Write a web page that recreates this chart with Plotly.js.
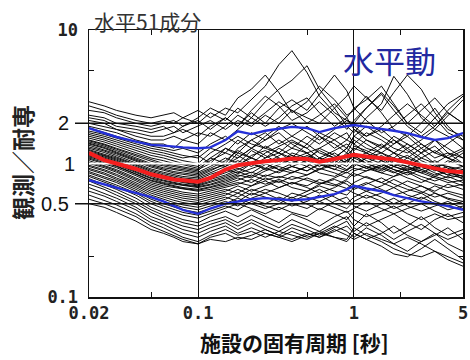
<!DOCTYPE html>
<html><head><meta charset="utf-8">
<script src="https://cdn.plot.ly/plotly-3.0.1.min.js"></script>
<style>html,body{margin:0;padding:0;background:#fff}#chart{width:470px;height:360px}</style>
</head><body><div id="chart"></div>
<script>
// Natural periods of the facility [s]
const periods = [0.02,0.025,0.03,0.04,0.05,0.06,0.07,0.08,0.1,0.12,0.15,0.18,0.22,0.27,0.33,0.4,0.5,0.6,0.75,0.9,1,1.2,1.5,1.8,2.2,2.7,3.3,4,5];

// 51 horizontal components: observed / 耐専 ratio
const h01=[2.9,2.7,2.5,2.3,2.2,2.3,2.4,2.2,2.5,2.2,2.6,2.4,3.0,3.8,5.5,7.0,4.8,3.2,2.4,2.1,2.0,2.6,3.3,2.5,1.9,1.6,1.9,2.4,2.0];
const h02=[2.7,2.5,2.3,2.1,2.0,2.1,2.0,2.2,2.0,2.4,2.1,2.6,2.2,2.9,3.6,4.2,5.4,3.6,2.6,1.9,1.7,2.2,2.8,4.5,3.3,2.2,1.8,2.3,3.0];
const h03=[2.5,2.4,2.2,2.0,1.9,2.0,2.1,1.9,2.2,2.6,2.3,3.1,3.6,4.6,3.4,2.4,2.9,3.8,3.0,2.3,2.5,3.2,2.4,1.8,1.6,2.0,2.6,1.9,1.5];
const h04=[2.3,2.2,2.0,1.9,1.8,1.9,1.7,1.9,2.1,1.8,2.2,1.9,2.4,2.0,2.6,3.0,2.5,3.3,4.6,3.5,2.6,3.0,3.8,2.8,2.0,1.7,2.2,2.8,3.3];
const h05=[2.2,2.1,1.9,1.8,1.7,1.8,1.9,1.7,1.9,2.1,1.8,2.1,1.9,2.3,2.0,2.5,2.2,2.0,2.6,3.2,3.8,3.1,2.5,3.4,4.6,3.6,2.4,1.8,1.6];
const h06=[2.1,2.0,1.8,1.7,1.6,1.6,1.7,1.8,1.6,1.9,2.2,1.9,2.5,3.2,2.7,2.1,2.4,2.9,2.3,1.8,2.1,2.6,3.4,2.7,2.0,2.5,3.1,2.4,2.0];
const h07=[2.0,1.9,1.8,1.6,1.5,1.5,1.6,1.5,1.7,1.6,1.9,2.3,2.0,2.4,2.9,2.5,2.0,2.3,2.8,2.2,1.8,1.6,1.9,2.3,2.8,2.3,1.9,2.5,3.2];
const h08=[1.9,1.8,1.7,1.5,1.4,1.4,1.3,1.5,1.4,1.7,1.5,1.8,2.2,1.9,2.2,2.7,3.1,2.4,1.9,2.2,2.6,2.1,1.7,1.9,2.3,2.8,2.2,1.7,1.5];
const h09=[1.85,1.7,1.6,1.45,1.35,1.3,1.25,1.3,1.2,1.4,1.6,1.4,1.7,1.5,1.8,2.0,1.7,1.5,1.8,2.1,1.9,1.6,1.8,1.5,1.3,1.5,1.8,1.6,1.3];
const h10=[1.75,1.65,1.55,1.4,1.3,1.25,1.2,1.15,1.1,1.3,1.2,1.5,1.3,1.6,1.9,1.6,1.4,1.7,1.5,1.3,1.6,1.9,1.6,1.4,1.7,1.4,1.2,1.4,1.7];
const h11=[1.7,1.6,1.5,1.35,1.25,1.2,1.15,1.1,1.15,1.0,1.3,1.2,1.5,1.7,1.4,1.6,1.9,1.6,1.3,1.5,1.8,1.5,1.3,1.6,1.4,1.2,1.5,1.3,1.1];
const h12=[1.65,1.55,1.45,1.3,1.2,1.15,1.1,1.05,1.0,1.2,1.4,1.6,1.4,1.3,1.5,1.3,1.6,1.4,1.7,1.5,1.4,1.7,1.5,1.3,1.2,1.4,1.2,1.1,1.25];
const h13=[1.6,1.5,1.4,1.25,1.15,1.1,1.05,1.0,0.95,1.1,1.0,1.3,1.5,1.3,1.2,1.45,1.3,1.6,1.4,1.2,1.5,1.3,1.2,1.4,1.6,1.3,1.1,1.2,1.0];
const h14=[1.55,1.45,1.35,1.2,1.1,1.05,1.0,0.98,0.92,1.05,1.2,1.1,1.3,1.5,1.7,1.4,1.2,1.3,1.5,1.7,1.4,1.2,1.4,1.2,1.1,1.3,1.5,1.2,1.1];
const h15=[1.5,1.4,1.3,1.17,1.07,1.0,0.97,0.94,0.9,1.0,0.95,1.2,1.1,1.35,1.2,1.1,1.4,1.2,1.1,1.3,1.6,1.4,1.2,1.1,1.3,1.1,1.0,1.15,1.3];
const h16=[1.48,1.38,1.28,1.14,1.04,0.98,0.95,0.92,0.88,1.1,1.3,1.15,1.0,1.2,1.35,1.5,1.3,1.1,1.25,1.4,1.25,1.5,1.35,1.2,1.0,1.2,1.35,1.1,0.95];
const h17=[1.45,1.35,1.25,1.1,1.0,0.96,0.92,0.9,0.86,0.95,1.1,1.0,1.25,1.1,1.3,1.15,1.05,1.3,1.15,1.0,1.2,1.1,1.3,1.5,1.25,1.05,0.95,1.0,1.2];
const h18=[1.42,1.32,1.22,1.08,0.98,0.93,0.9,0.87,0.84,0.92,1.05,1.25,1.1,1.0,1.15,1.3,1.2,1.0,0.95,1.15,1.3,1.2,1.05,1.2,1.4,1.2,1.0,0.95,0.9];
const h19=[1.4,1.3,1.2,1.06,0.96,0.91,0.87,0.85,0.82,0.9,0.98,1.1,1.3,1.15,1.0,1.2,1.1,1.25,1.1,1.3,1.15,1.0,1.15,1.0,0.95,1.1,1.25,1.1,1.0];
const h20=[1.37,1.27,1.18,1.04,0.94,0.89,0.85,0.83,0.8,0.88,1.0,0.95,1.15,1.25,1.1,1.0,1.15,1.05,1.2,1.05,1.35,1.25,1.1,0.95,1.05,0.95,0.9,1.05,0.95];
const h21=[1.33,1.24,1.15,1.01,0.91,0.86,0.83,0.8,0.78,0.85,0.95,1.05,0.95,1.1,1.2,1.05,0.95,1.1,1.0,1.2,1.1,1.0,0.9,1.05,1.15,1.0,0.88,0.95,0.85];
const h22=[1.3,1.21,1.12,0.99,0.89,0.84,0.81,0.78,0.76,0.83,0.9,0.85,1.0,0.92,1.05,1.15,1.0,0.9,1.05,0.95,1.1,1.2,1.05,0.95,0.88,1.0,0.9,0.82,0.9];
const h23=[1.27,1.18,1.1,0.97,0.87,0.82,0.79,0.76,0.74,0.8,0.88,0.98,1.1,1.0,0.9,1.0,1.12,1.0,0.9,1.05,0.98,1.1,1.2,1.05,0.95,0.85,0.95,0.88,0.8];
const h24=[1.25,1.16,1.08,0.95,0.85,0.8,0.77,0.75,0.72,0.78,0.85,0.92,0.85,0.98,1.1,0.95,0.88,1.0,1.12,1.0,1.2,1.05,0.95,1.1,1.0,0.9,0.82,0.9,0.95];
const h25=[1.22,1.14,1.06,0.93,0.83,0.78,0.76,0.73,0.7,0.76,0.82,0.9,1.0,0.9,0.98,1.08,1.2,1.05,0.95,0.88,1.0,0.92,1.05,0.95,1.1,1.0,0.9,0.82,0.78];
const h26=[1.2,1.12,1.04,0.91,0.82,0.77,0.74,0.72,0.69,0.74,0.8,0.87,0.8,0.92,0.85,0.95,1.05,0.95,1.08,1.15,1.05,0.95,0.88,1.0,0.9,0.95,1.05,0.92,0.85];
const h27=[1.18,1.1,1.02,0.89,0.8,0.75,0.72,0.7,0.68,0.72,0.78,0.84,0.92,1.0,0.9,0.85,0.95,1.1,1.0,0.9,0.95,1.1,1.0,0.9,0.85,0.95,0.85,0.78,0.82];
const h28=[1.16,1.08,1.0,0.87,0.78,0.74,0.71,0.69,0.67,0.7,0.76,0.82,0.78,0.88,0.95,0.88,0.82,0.9,0.98,1.05,1.15,1.0,0.92,0.85,0.95,0.88,0.8,0.88,0.76];
const h29=[1.14,1.06,0.98,0.86,0.77,0.72,0.7,0.68,0.66,0.69,0.74,0.8,0.86,0.8,0.88,0.95,0.88,0.98,0.9,0.85,0.92,0.88,0.98,0.9,0.82,0.9,0.98,0.85,0.8];
const h30=[1.12,1.04,0.96,0.84,0.75,0.71,0.68,0.66,0.64,0.67,0.72,0.78,0.72,0.82,0.78,0.85,0.95,0.85,0.8,0.9,1.0,0.92,0.85,0.95,0.88,0.8,0.74,0.8,0.72];
const h31=[1.1,1.02,0.95,0.83,0.74,0.7,0.67,0.65,0.63,0.66,0.7,0.75,0.82,0.75,0.8,0.76,0.82,0.92,0.85,0.78,0.88,0.95,0.85,0.8,0.92,0.85,0.78,0.72,0.75];
const h32=[1.08,1.0,0.93,0.81,0.72,0.68,0.66,0.64,0.62,0.64,0.68,0.72,0.68,0.78,0.72,0.8,0.75,0.7,0.78,0.86,0.8,0.88,0.95,0.86,0.78,0.72,0.8,0.75,0.68];
const h33=[1.05,0.97,0.9,0.78,0.7,0.66,0.63,0.61,0.59,0.62,0.66,0.7,0.76,0.7,0.76,0.7,0.78,0.72,0.68,0.76,0.84,0.78,0.72,0.8,0.86,0.76,0.7,0.66,0.7];
const h34=[1.02,0.95,0.88,0.76,0.68,0.64,0.61,0.59,0.57,0.6,0.64,0.6,0.68,0.74,0.66,0.72,0.68,0.76,0.7,0.65,0.72,0.8,0.72,0.66,0.74,0.68,0.62,0.7,0.64];
const h35=[1.0,0.93,0.86,0.74,0.66,0.62,0.59,0.57,0.55,0.58,0.62,0.68,0.62,0.68,0.74,0.66,0.62,0.7,0.76,0.7,0.64,0.7,0.78,0.7,0.64,0.6,0.68,0.62,0.58];
const h36=[0.97,0.9,0.83,0.72,0.64,0.6,0.57,0.55,0.53,0.56,0.6,0.56,0.64,0.6,0.66,0.72,0.66,0.6,0.66,0.74,0.68,0.62,0.68,0.76,0.68,0.62,0.56,0.6,0.55];
const h37=[0.95,0.88,0.81,0.7,0.62,0.58,0.55,0.53,0.51,0.54,0.58,0.64,0.58,0.64,0.6,0.55,0.62,0.68,0.62,0.58,0.66,0.72,0.64,0.58,0.62,0.68,0.6,0.55,0.52];
const h38=[0.92,0.85,0.78,0.68,0.6,0.56,0.53,0.51,0.49,0.52,0.56,0.52,0.6,0.56,0.52,0.6,0.56,0.52,0.58,0.64,0.6,0.55,0.6,0.66,0.58,0.54,0.6,0.54,0.5];
const h39=[0.9,0.83,0.76,0.66,0.58,0.54,0.51,0.49,0.47,0.5,0.54,0.6,0.54,0.5,0.56,0.52,0.58,0.64,0.56,0.5,0.56,0.62,0.56,0.5,0.55,0.6,0.52,0.48,0.52];
const h40=[0.87,0.8,0.74,0.64,0.56,0.52,0.49,0.47,0.45,0.48,0.52,0.48,0.55,0.6,0.54,0.48,0.52,0.58,0.5,0.46,0.52,0.58,0.52,0.46,0.5,0.56,0.5,0.45,0.48];
const h41=[0.85,0.78,0.72,0.62,0.54,0.5,0.47,0.45,0.43,0.46,0.5,0.55,0.5,0.46,0.5,0.56,0.5,0.45,0.52,0.56,0.48,0.44,0.5,0.55,0.48,0.44,0.48,0.52,0.46];
const h42=[0.82,0.75,0.69,0.6,0.52,0.48,0.45,0.43,0.41,0.44,0.48,0.45,0.52,0.48,0.45,0.5,0.46,0.52,0.47,0.43,0.46,0.52,0.46,0.42,0.46,0.5,0.44,0.4,0.43];
const h43=[0.8,0.73,0.67,0.58,0.5,0.46,0.43,0.41,0.39,0.42,0.46,0.5,0.46,0.42,0.47,0.43,0.4,0.46,0.42,0.38,0.44,0.4,0.44,0.48,0.42,0.38,0.42,0.38,0.4];
const h44=[0.77,0.7,0.64,0.55,0.47,0.43,0.4,0.38,0.36,0.4,0.44,0.4,0.45,0.4,0.36,0.42,0.38,0.34,0.4,0.44,0.38,0.34,0.38,0.42,0.36,0.32,0.38,0.42,0.36];
const h45=[0.74,0.67,0.61,0.52,0.45,0.41,0.38,0.36,0.34,0.37,0.4,0.36,0.41,0.37,0.33,0.38,0.34,0.31,0.36,0.4,0.34,0.42,0.36,0.3,0.34,0.4,0.33,0.29,0.32];
const h46=[0.7,0.64,0.58,0.5,0.43,0.39,0.36,0.34,0.32,0.35,0.38,0.34,0.38,0.34,0.31,0.35,0.32,0.29,0.33,0.37,0.31,0.36,0.31,0.27,0.31,0.35,0.3,0.27,0.3];
const h47=[0.66,0.6,0.55,0.47,0.4,0.37,0.34,0.32,0.3,0.33,0.36,0.32,0.36,0.32,0.29,0.33,0.3,0.28,0.31,0.34,0.3,0.27,0.3,0.34,0.29,0.26,0.29,0.33,0.27];
const h48=[0.62,0.57,0.52,0.45,0.38,0.35,0.32,0.3,0.28,0.31,0.34,0.3,0.33,0.3,0.28,0.31,0.28,0.3,0.34,0.31,0.28,0.33,0.29,0.25,0.22,0.26,0.3,0.25,0.22];
const h49=[0.58,0.53,0.49,0.42,0.36,0.33,0.3,0.28,0.26,0.29,0.32,0.29,0.31,0.28,0.31,0.29,0.27,0.3,0.28,0.26,0.3,0.27,0.24,0.21,0.2,0.23,0.27,0.23,0.19];
const h50=[0.54,0.5,0.46,0.4,0.34,0.31,0.29,0.27,0.25,0.28,0.3,0.27,0.29,0.32,0.29,0.27,0.3,0.28,0.32,0.29,0.27,0.3,0.27,0.25,0.28,0.25,0.22,0.2,0.18];
const h51=[0.5,0.47,0.43,0.37,0.32,0.3,0.28,0.26,0.25,0.27,0.26,0.28,0.27,0.3,0.28,0.26,0.29,0.31,0.28,0.27,0.33,0.29,0.26,0.23,0.21,0.2,0.22,0.19,0.17];

// mean (red) and mean ± sigma (blue)
const meanRatio = [1.20,1.06,1.0,0.91,0.83,0.79,0.76,0.75,0.73,0.78,0.9,0.97,1.01,1.04,1.06,1.09,1.08,1.03,1.08,1.13,1.16,1.13,1.1,1.07,1.02,0.96,0.92,0.88,0.86];
const upperSigma = [1.84,1.68,1.58,1.46,1.38,1.36,1.33,1.32,1.3,1.32,1.5,1.74,1.66,1.76,1.82,1.88,1.84,1.72,1.84,1.9,1.94,1.88,1.82,1.76,1.69,1.58,1.5,1.55,1.69];
const lowerSigma = [0.75,0.7,0.66,0.6,0.56,0.52,0.48,0.45,0.42,0.46,0.5,0.52,0.54,0.55,0.54,0.53,0.54,0.56,0.59,0.64,0.68,0.65,0.62,0.58,0.55,0.52,0.5,0.48,0.45];

// axes / labels
const xTickVals = [0.02,0.1,1,5];
const xTickText = ['0.02','0.1','1','5'];
const xMinorTicks = [0.05,0.5,2];
const yTickVals = [0.1,10];
const yTickText = ['0.1','10'];
const yMinorTicks = [0.2,5];
const refLevels = [2,0.5];
const refLabels = ['2','0.5'];
const unityLevel = 1;

const components = [h01,h02,h03,h04,h05,h06,h07,h08,h09,h10,h11,h12,h13,h14,h15,h16,h17,h18,h19,h20,h21,h22,h23,h24,h25,h26,h27,h28,h29,h30,h31,h32,h33,h34,h35,h36,h37,h38,h39,h40,h41,h42,h43,h44,h45,h46,h47,h48,h49,h50,h51];

const traces = components.map(c => ({x: periods, y: c, type:'scatter', mode:'lines', line:{color:'#000', width:0.95}, hoverinfo:'skip'}));
traces.push({x:[periods[0], periods[periods.length-1]], y:[unityLevel, unityLevel], type:'scatter', mode:'lines', line:{color:'#fff', width:2}, hoverinfo:'skip'});
traces.push({x: periods, y: upperSigma, type:'scatter', mode:'lines', line:{color:'#2530d8', width:2.4}});
traces.push({x: periods, y: lowerSigma, type:'scatter', mode:'lines', line:{color:'#2530d8', width:2.4}});
traces.push({x: periods, y: meanRatio, type:'scatter', mode:'lines', line:{color:'#f41e1e', width:4}});

const yr = [-1, 1];
const toPaperY = v => (Math.log10(v) - yr[0]) / (yr[1] - yr[0]);
const L = 89, R = 7, T = 30, B = 63, W = 470, H = 360;
const pw = W - L - R, ph = H - T - B;
const px = x => (x - L) / pw;
const py = y => (H - B - y) / ph;

const shapes = refLevels.map(v => ({type:'line', xref:'paper', yref:'paper', x0:px(75), x1:1, y0:toPaperY(v), y1:toPaperY(v), line:{color:'#111', width:1.5}}));
const tickFont = {family:'DejaVu Sans Mono, monospace', size:17, weight:'bold', color:'#222'};
const annotations = refLevels.map((v,i) => ({xref:'paper', yref:'paper', x:px(71), y:toPaperY(v), xanchor:'right', yanchor:'middle', text:refLabels[i], showarrow:false, font:{family:'Liberation Sans, Arial', size:20, color:'#111'}}));
annotations.push({xref:'paper', yref:'paper', x:px(77), y:toPaperY(unityLevel), xanchor:'right', yanchor:'middle', text:String(unityLevel), showarrow:false, font:{family:'Liberation Sans, Arial', size:20, color:'#111'}});
annotations.push({xref:'paper', yref:'paper', x:px(92), y:py(21), xanchor:'left', yanchor:'middle', text:'水平51成分', showarrow:false, font:{family:'Noto Sans CJK JP', size:21, color:'#333'}});
annotations.push({xref:'paper', yref:'paper', x:px(389), y:py(59), xanchor:'center', yanchor:'middle', text:'水平動', showarrow:false, font:{family:'Noto Sans CJK JP', size:31, color:'#2228a0'}});
annotations.push({xref:'paper', yref:'paper', x:px(22), y:py(163), xanchor:'center', yanchor:'middle', textangle:-90, text:'観測／耐専', showarrow:false, font:{family:'Noto Sans CJK JP', size:23, weight:'bold', color:'#222'}});
annotations.push({xref:'paper', yref:'paper', x:px(294), y:py(342), xanchor:'center', yanchor:'middle', text:'施設の固有周期 [秒]', showarrow:false, font:{family:'Noto Sans CJK JP', size:21, weight:'bold', color:'#111'}});

const layout = {
  width:W, height:H, margin:{l:L, r:R, t:T, b:B},
  paper_bgcolor:'#fff', plot_bgcolor:'#fff', showlegend:false,
  xaxis:{type:'log', range:[Math.log10(0.02), Math.log10(5)], tickmode:'array', tickvals:xTickVals, ticktext:xTickText,
    ticks:'', showline:true, linecolor:'#111', linewidth:1.5, mirror:'allticks', showgrid:true, gridcolor:'#111', gridwidth:1,
    zeroline:false, tickfont:tickFont,
    minor:{tickmode:'array', tickvals:xMinorTicks, ticks:'inside', ticklen:5, tickcolor:'#111', tickwidth:1, showgrid:false}},
  yaxis:{type:'log', range:yr, tickmode:'array', tickvals:yTickVals, ticktext:yTickText,
    ticks:'', showline:true, linecolor:'#111', linewidth:1.5, mirror:'allticks', showgrid:false,
    zeroline:false, tickfont:tickFont, ticklabelstandoff:6,
    minor:{tickmode:'array', tickvals:yMinorTicks, ticks:'inside', ticklen:5, tickcolor:'#111', tickwidth:1, showgrid:false}},
  shapes:shapes, annotations:annotations
};
Plotly.newPlot('chart', traces, layout, {staticPlot:true, displayModeBar:false});
</script>
</body></html>
